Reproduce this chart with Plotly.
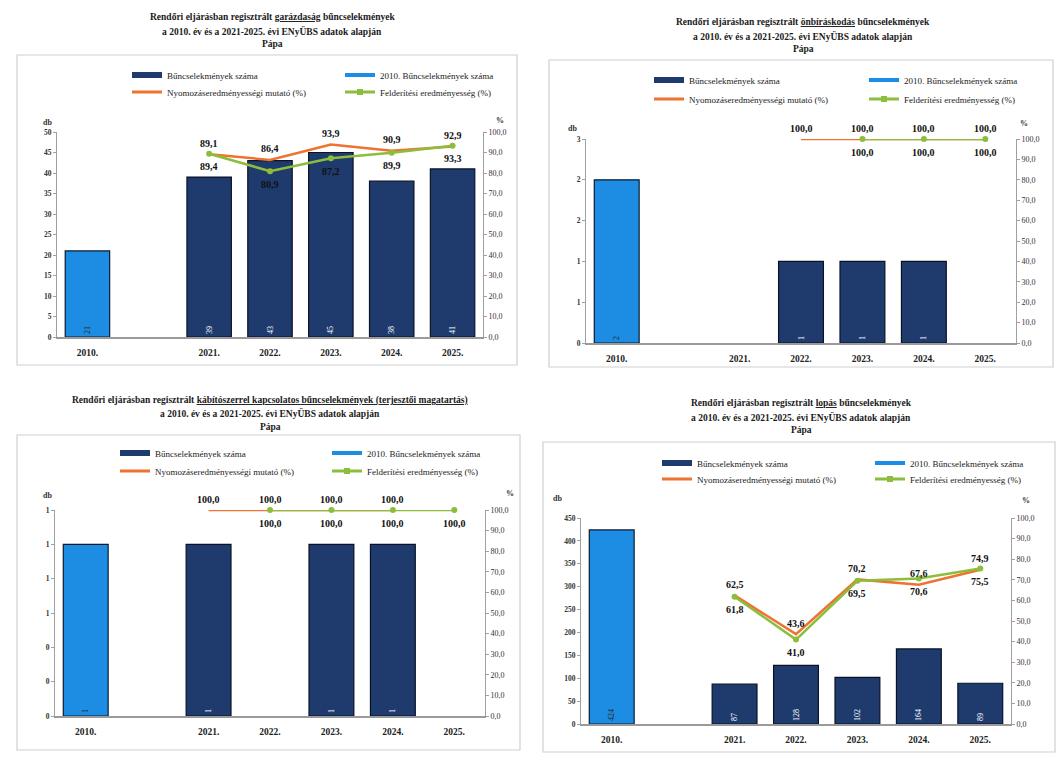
import plotly.graph_objects as go

W, H = 1059, 757
SERIF = "Liberation Serif"

# ---------------- data ----------------
categories = ["2010.", "", "2021.", "2022.", "2023.", "2024.", "2025."]
years = ["2021.", "2022.", "2023.", "2024.", "2025."]

legend_names = [
    "Bűncselekmények száma",
    "2010. Bűncselekmények száma",
    "Nyomozáseredményességi mutató (%)",
    "Felderítési eredményesség (%)",
]

# 1) garázdaság
p1_count_2010 = 21
p1_counts = [39, 43, 45, 38, 41]
p1_nyom = [89.1, 86.4, 93.9, 90.9, 92.9]
p1_feld = [89.4, 80.9, 87.2, 89.9, 93.3]

# 2) önbíráskodás
p2_count_2010 = 2
p2_counts = [None, 1, 1, 1, None]
p2_nyom = [None, 100.0, 100.0, 100.0, 100.0]
p2_feld = [None, None, 100.0, 100.0, 100.0]

# 3) kábítószerrel kapcsolatos (terjesztői magatartás)
p3_count_2010 = 1
p3_counts = [1, None, 1, 1, None]
p3_nyom = [100.0, 100.0, 100.0, 100.0, None]
p3_feld = [None, 100.0, 100.0, 100.0, 100.0]

# 4) lopás
p4_count_2010 = 424
p4_counts = [87, 128, 102, 164, 89]
p4_nyom = [62.5, 43.6, 70.2, 67.6, 74.9]
p4_feld = [61.8, 41.0, 69.5, 70.6, 75.5]

pct_ticks = [0, 10, 20, 30, 40, 50, 60, 70, 80, 90, 100]

title_line2 = "a 2010. év és a 2021-2025. évi ENyÜBS adatok alapján"
title_line3 = "Pápa"

# ---------------- styling / layout helpers ----------------
DARK = "#1f3b6e"
BRIGHT = "#1c8de3"
ORANGE = "#ee7230"
GREEN = "#8cbd3c"


def fx(px):
    return px / W


def fy(py):
    return 1 - py / H


def fmt(v):
    return f"{v:.1f}".replace(".", ",")


panels = [
    dict(counts2010=p1_count_2010, counts=p1_counts, nyom=p1_nyom, feld=p1_feld,
         word="garázdaság", rest=" bűncselekmények",
         plot=(57, 483, 132, 337), yrange=[0, 50], dtick=5, tfmt="",
         title_x=272, title_y=(17, 31, 44),
         leg_x=(135, 303), leg_y=(75, 92), entry=168,
         db=(41, 116), pct=(500, 114), box=(17, 55, 517, 365)),
    dict(counts2010=p2_count_2010, counts=p2_counts, nyom=p2_nyom, feld=p2_feld,
         word="önbíráskodás", rest=" bűncselekmények",
         plot=(586, 1016, 139, 343), yrange=[0, 2.5], dtick=0.5, tfmt=".0f",
         title_x=803, title_y=(22, 36, 49),
         leg_x=(657, 827), leg_y=(80, 99), entry=170,
         db=(572, 122), pct=(1030, 117), box=(549, 60, 1053, 367)),
    dict(counts2010=p3_count_2010, counts=p3_counts, nyom=p3_nyom, feld=p3_feld,
         word="kábítószerrel kapcsolatos bűncselekmények (terjesztői magatartás)", rest="",
         plot=(55, 485, 510, 716), yrange=[0, 1.2], dtick=0.2, tfmt=".0f",
         title_x=270, title_y=(400, 413, 427),
         leg_x=(123, 290), leg_y=(453, 471), entry=167,
         db=(41, 495), pct=(510, 493), box=(17, 435, 520, 750)),
    dict(counts2010=p4_count_2010, counts=p4_counts, nyom=p4_nyom, feld=p4_feld,
         word="lopás", rest=" bűncselekmények",
         plot=(581, 1011, 518, 724), yrange=[0, 450], dtick=50, tfmt="",
         title_x=801, title_y=(403, 417, 430),
         leg_x=(665, 833), leg_y=(463, 479), entry=168,
         db=(557, 498), pct=(1032, 500), box=(543, 442, 1055, 752)),
]

fig = go.Figure()
layout = dict(
    width=W, height=H, margin=dict(l=0, r=0, t=0, b=0, autoexpand=False),
    autosize=False,
    paper_bgcolor="white", plot_bgcolor="rgba(0,0,0,0)",
    separators=", ", barmode="overlay", showlegend=True,
    font=dict(family=SERIF, color="#222"),
)
annotations = []
shapes = []

x_idx_2010 = categories.index("2010.")
x_idx_years = [categories.index(y) for y in years]
x_all = list(range(len(categories)))

LABEL_FONT = dict(family=SERIF, size=10, color="#111", weight="bold")

for i, p in enumerate(panels):
    xa = "x" if i == 0 else f"x{i+1}"
    ylid = 2 * i + 1
    yrid = 2 * i + 2
    yl = "y" if ylid == 1 else f"y{ylid}"
    yr = f"y{yrid}"
    xkey = "xaxis" if i == 0 else f"xaxis{i+1}"
    ylkey = "yaxis" if ylid == 1 else f"yaxis{ylid}"
    yrkey = f"yaxis{yrid}"
    x0, x1, ytop, ybot = p["plot"]

    leg_ids = []
    for r in range(2):
        n = 2 * i + r + 1
        leg_ids.append("legend" if n == 1 else f"legend{n}")

    # bars
    fig.add_trace(go.Bar(
        x=[x_idx_2010], y=[p["counts2010"]], xaxis=xa, yaxis=yl, width=0.73,
        marker=dict(color=BRIGHT, line=dict(color="#0a1a30", width=1.2)),
        text=[str(p["counts2010"])], textposition="inside", insidetextanchor="start",
        textangle=-90, textfont=dict(size=8, color="#2a2a2a", family=SERIF),
        showlegend=False, hoverinfo="skip"))
    fig.add_trace(go.Bar(
        x=x_idx_years, y=p["counts"], xaxis=xa, yaxis=yl, width=0.73,
        marker=dict(color=DARK, line=dict(color="#0a1226", width=1.2)),
        text=[str(v) if v else "" for v in p["counts"]], textposition="inside",
        insidetextanchor="start", textangle=-90,
        textfont=dict(size=8, color="white", family=SERIF),
        showlegend=False, hoverinfo="skip"))

    # lines
    fig.add_trace(go.Scatter(
        x=x_idx_years, y=p["nyom"], xaxis=xa, yaxis=yr, mode="lines",
        line=dict(color=ORANGE, width=2.5), cliponaxis=False,
        showlegend=False, hoverinfo="skip"))
    fig.add_trace(go.Scatter(
        x=x_idx_years, y=p["feld"], xaxis=xa, yaxis=yr, mode="lines+markers",
        line=dict(color=GREEN, width=2.5), marker=dict(size=6, color=GREEN),
        cliponaxis=False, showlegend=False, hoverinfo="skip"))

    # line data labels (orange above, green below)
    for xv, v in zip(x_idx_years, p["nyom"]):
        if v is not None:
            annotations.append(dict(text=fmt(v), x=xv, y=v, xref=xa, yref=yr,
                                    showarrow=False, yshift=11, font=LABEL_FONT))
    for xv, v in zip(x_idx_years, p["feld"]):
        if v is not None:
            annotations.append(dict(text=fmt(v), x=xv, y=v, xref=xa, yref=yr,
                                    showarrow=False, yshift=-13, font=LABEL_FONT))

    # legend entries
    fig.add_trace(go.Scatter(x=[None], y=[None], xaxis=xa, yaxis=yl, mode="lines",
                             line=dict(color=DARK, width=6), name=legend_names[0],
                             legend=leg_ids[0]))
    fig.add_trace(go.Scatter(x=[None], y=[None], xaxis=xa, yaxis=yl, mode="lines",
                             line=dict(color=BRIGHT, width=4), name=legend_names[1],
                             legend=leg_ids[0]))
    fig.add_trace(go.Scatter(x=[None], y=[None], xaxis=xa, yaxis=yl, mode="lines",
                             line=dict(color=ORANGE, width=3), name=legend_names[2],
                             legend=leg_ids[1]))
    fig.add_trace(go.Scatter(x=[None], y=[None], xaxis=xa, yaxis=yl, mode="lines+markers",
                             line=dict(color=GREEN, width=3),
                             marker=dict(symbol="square", size=6, color=GREEN),
                             name=legend_names[3], legend=leg_ids[1]))

    for r in range(2):
        layout[leg_ids[r]] = dict(
            orientation="h", x=fx(p["leg_x"][0] - 8), y=fy(p["leg_y"][r]),
            xanchor="left", yanchor="middle", entrywidth=p["entry"],
            entrywidthmode="pixels", itemwidth=30, bgcolor="rgba(0,0,0,0)",
            font=dict(family=SERIF, size=9, color="#222"), traceorder="normal",
            tracegroupgap=0)

    # axes
    layout[xkey] = dict(
        domain=[fx(x0), fx(x1)], anchor=yl, range=[-0.5, len(categories) - 0.5],
        tickmode="array", tickvals=x_all, ticktext=categories,
        showline=True, linecolor="#9a9a9a", linewidth=1.5, ticks="",
        showgrid=False, zeroline=False, ticklabelstandoff=6,
        tickfont=dict(family=SERIF, size=9.5, color="#222", weight="bold"),
        fixedrange=True)
    layout[ylkey] = dict(
        domain=[fy(ybot), fy(ytop)], anchor=xa, range=p["yrange"], dtick=p["dtick"],
        tick0=0, tickformat=p["tfmt"], showline=True, linecolor="#a0a0a0",
        ticks="outside", ticklen=3, tickcolor="#a0a0a0", showgrid=False,
        zeroline=False, tickfont=dict(family=SERIF, size=7.5, color="#333",
                                      weight="bold"), fixedrange=True)
    layout[yrkey] = dict(
        overlaying=yl, anchor=xa, side="right", range=[0, 100], tickmode="array",
        tickvals=pct_ticks, ticktext=[fmt(v) for v in pct_ticks],
        showline=True, linecolor="#a0a0a0", ticks="outside", ticklen=3,
        tickcolor="#a0a0a0", showgrid=False, zeroline=False,
        tickfont=dict(family=SERIF, size=8, color="#333"), fixedrange=True)

    # titles
    t1 = f"<b>Rendőri eljárásban regisztrált <u>{p['word']}</u>{p['rest']}</b>"
    for txt, ty in zip([t1, f"<b>{title_line2}</b>", f"<b>{title_line3}</b>"], p["title_y"]):
        annotations.append(dict(
            text=txt, x=fx(p["title_x"]), y=fy(ty), xref="paper", yref="paper",
            xanchor="center", yanchor="middle", showarrow=False,
            font=dict(family=SERIF, size=9.5, color="#1a1a1a")))
    annotations.append(dict(text="<b>db</b>", x=fx(p["db"][0]), y=fy(p["db"][1]),
                            xref="paper", yref="paper", showarrow=False,
                            font=dict(family=SERIF, size=8, color="#333")))
    annotations.append(dict(text="<b>%</b>", x=fx(p["pct"][0]), y=fy(p["pct"][1]),
                            xref="paper", yref="paper", showarrow=False,
                            font=dict(family=SERIF, size=8, color="#333")))

    bx0, by0, bx1, by1 = p["box"]
    shapes.append(dict(type="rect", xref="paper", yref="paper",
                       x0=fx(bx0), x1=fx(bx1), y0=fy(by1), y1=fy(by0),
                       line=dict(color="#cfcfcf", width=1.2), layer="below"))

layout["annotations"] = annotations
layout["shapes"] = shapes
fig.update_layout(**layout)

fig.write_html(
    "out.html",
    config={"displayModeBar": False, "responsive": False},
    post_script="document.body.style.margin='0';document.body.style.overflow='hidden';",
)
